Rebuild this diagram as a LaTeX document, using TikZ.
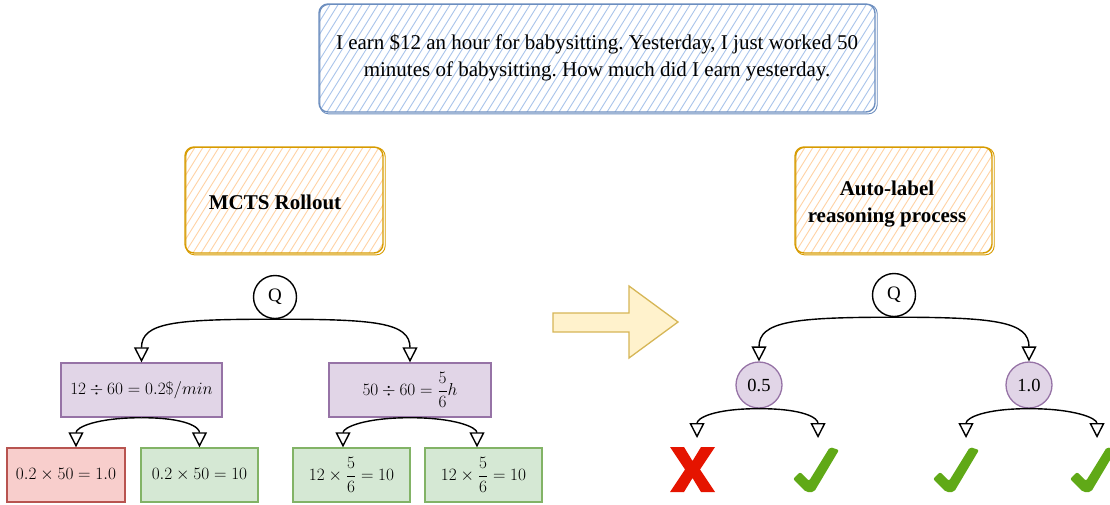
\documentclass[tikz,border=0pt]{standalone}
\usepackage{amsmath}
\usepackage[no-math]{fontspec}
\setmainfont{Liberation Serif}
\usetikzlibrary{arrows.meta,calc}
\frenchspacing
\definecolor{qblue}{HTML}{6C8EBF}
\definecolor{qbluehatch}{HTML}{A9C4EB}
\definecolor{orng}{HTML}{D79B00}
\definecolor{ornghatch}{HTML}{FFD2A4}
\definecolor{purpfill}{HTML}{E1D5E7}
\definecolor{purpdraw}{HTML}{9673A6}
\definecolor{redfill}{HTML}{F8CECC}
\definecolor{reddraw}{HTML}{B85450}
\definecolor{grnfill}{HTML}{D5E8D4}
\definecolor{grndraw}{HTML}{82B366}
\definecolor{arrfill}{HTML}{FFF2CC}
\definecolor{arrdraw}{HTML}{D6B656}
\definecolor{xred}{HTML}{E51400}
\definecolor{chkgreen}{HTML}{60A917}
\tikzset{
  hatch/.style={path picture={\foreach \k in {0,...,85}{\draw[#1, line width=0.9pt] ([xshift=\k*8pt-80pt]path picture bounding box.south west) -- ++(58:140pt);}}},
  sketchbox/.style 2 args={draw=#1, line width=1.4pt, rounded corners=9pt, fill=white, hatch=#2, inner sep=0pt},
  sketchline/.style={line width=0.9pt, rounded corners=9pt},
  titletext/.style={font=\fontsize{21}{27}\selectfont\bfseries, align=center, inner sep=0pt},
  mathbox/.style 2 args={draw=#1, fill=#2, line width=1.4pt, minimum height=54pt, inner sep=0pt, font=\fontsize{16.4}{20}\selectfont},
  qcirc/.style={circle, draw=black, line width=1.4pt, minimum size=43pt, inner sep=0pt, fill=white, font=\fontsize{19}{20}\selectfont},
  vcirc/.style={circle, draw=purpdraw, fill=purpfill, line width=1.3pt, minimum size=46pt, inner sep=0pt, font=\fontsize{18.5}{20}\selectfont},
  edge/.style={draw=black, line width=1.4pt, -{Triangle[fill=white, length=15pt, width=15pt, line width=1.4pt]}},
  xmark/.pic={\fill[xred] (0,0)--(14,0)--(22.5,14)--(31,0)--(45,0)--(30,22.5)--(45,45)--(31,45)--(22.5,31)--(14,45)--(0,45)--(15,22.5)--cycle;},
  checkmark/.pic={\fill[chkgreen, rounded corners=2pt] (0,32)--(7,25)--(16,34)--(37,0)--(46,3)--(21,45)--(13,45)--cycle;}
}
\begin{document}
\begin{tikzpicture}[x=1pt,y=-1pt]
\useasboundingbox (0,0) rectangle (1110,504);
% question box
\node[sketchbox={qblue}{qbluehatch}, minimum width=556pt, minimum height=108pt, font=\fontsize{21}{27}\selectfont, align=center] (top) at (597,58)
  {I earn \$12 an hour for babysitting. Yesterday, I just worked 50\\minutes of babysitting. How much did I earn yesterday.};
\draw[qblue, sketchline] ([shift={(1.5,1.2)}]top.north west) rectangle ([shift={(1.5,1.2)}]top.south east);
% MCTS box
\node[sketchbox={orng}{ornghatch}, minimum width=198pt, minimum height=106pt] (mcts) at (284,200) {};
\draw[orng, sketchline] ([shift={(1.5,1.2)}]mcts.north west) rectangle ([shift={(1.5,1.2)}]mcts.south east);
\node[titletext] (mctst) at ([shift={(-9,2)}]mcts.center) {MCTS Rollout};
% Auto-label box
\node[sketchbox={orng}{ornghatch}, minimum width=197pt, minimum height=106pt] (auto) at (893.5,200) {};
\draw[orng, sketchline] ([shift={(1.5,1.2)}]auto.north west) rectangle ([shift={(1.5,1.2)}]auto.south east);
\node[titletext] (autot) at ([shift={(-6.5,4)}]auto.center) {Auto-label\\reasoning process};
% left tree
\node[qcirc] (q1) at (275,297) {Q};
\node[mathbox={purpdraw}{purpfill}, minimum width=161pt] (p1) at (141.5,390) {$12 \div 60 = 0.2\$/min$};
\node[mathbox={purpdraw}{purpfill}, minimum width=162pt] (p2) at (410,390) {$50 \div 60 = \dfrac{5}{6}h$};
\node[mathbox={reddraw}{redfill}, minimum width=118pt] (r1) at (66,475) {$0.2 \times 50 = 1.0$};
\node[mathbox={grndraw}{grnfill}, minimum width=117pt] (g1) at (199.5,475) {$0.2 \times 50 = 10$};
\node[mathbox={grndraw}{grnfill}, minimum width=117pt] (g2) at (351.5,475) {$12 \times \dfrac{5}{6} = 10$};
\node[mathbox={grndraw}{grnfill}, minimum width=117pt] (g3) at (483.5,475) {$12 \times \dfrac{5}{6} = 10$};
\draw[edge] (q1.south) .. controls +(-100,0) and +(0,-40) .. (p1.north);
\draw[edge] (q1.south) .. controls +(100,0) and +(0,-40) .. (p2.north);
\draw[edge] (p1.south) .. controls +(-45,0) and +(0,-20) .. ([xshift=10pt]r1.north);
\draw[edge] (p1.south) .. controls +(45,0) and +(0,-20) .. (g1.north);
\draw[edge] (p2.south) .. controls +(-45,0) and +(0,-20) .. ([xshift=-8.5pt]g2.north);
\draw[edge] (p2.south) .. controls +(45,0) and +(0,-20) .. ([xshift=-6.5pt]g3.north);
% big arrow
\draw[fill=arrfill, draw=arrdraw, line width=1.3pt] (553,313) -- (629,313) -- (629,286) -- (678,322) -- (629,358) -- (629,332) -- (553,332) -- cycle;
% right tree
\node[qcirc] (q2) at (894,295) {Q};
\node[vcirc] (c05) at (759,385) {0.5};
\node[vcirc] (c10) at (1029,385) {1.0};
\coordinate (t1) at (697,438);
\coordinate (t2) at (818,438);
\coordinate (t3) at (966,438);
\coordinate (t4) at (1097,438);
\draw[edge] (q2.south) .. controls +(-100,0) and +(0,-40) .. (c05.north);
\draw[edge] (q2.south) .. controls +(100,0) and +(0,-40) .. (c10.north);
\draw[edge] (c05.south) .. controls +(-45,0) and +(0,-20) .. (t1);
\draw[edge] (c05.south) .. controls +(45,0) and +(0,-20) .. (t2);
\draw[edge] (c10.south) .. controls +(-45,0) and +(0,-20) .. (t3);
\draw[edge] (c10.south) .. controls +(45,0) and +(0,-20) .. (t4);
\pic (m1) at (670,447) {xmark};
\pic (m2) at (793,447) {checkmark};
\pic (m3) at (933,447) {checkmark};
\pic (m4) at (1070,447) {checkmark};
\end{tikzpicture}
\end{document}
